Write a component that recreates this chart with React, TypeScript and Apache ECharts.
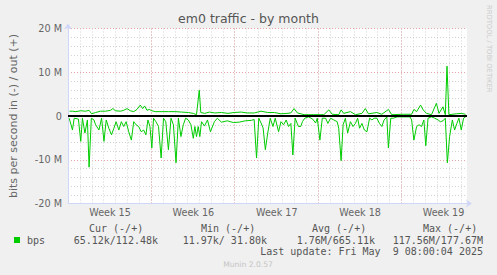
import React, { useEffect, useRef } from "react";
import * as echarts from "echarts";

// x = days since start of the graph window, value = Mbit/s
const outSamples: [number, number][] = [
  [0.13,1.1],[0.38,1.1],[0.65,1.0],[1.07,1.2],[1.48,1.1],[1.77,1.3],[1.98,0.5],[2.32,0.8],[2.73,1.1],[3.15,1.1],
  [3.57,1.3],[3.77,1.7],[3.98,1.2],[4.4,1.1],[4.68,1.3],[4.96,1.7],[5.23,1.2],[5.52,1.0],[5.79,1.5],[6.07,2.5],
  [6.27,1.7],[6.43,2.3],[6.63,1.3],[6.82,1.5],[7.04,1.2],[7.32,1.0],[7.88,1.0],[8.43,1.0],[8.98,1.0],[9.54,0.9],
  [10.1,0.8],[10.52,0.6],[10.79,0.3],[11.02,5.9],[11.15,0.8],[11.48,0.6],[11.88,0.9],[12.32,0.7],[12.88,0.8],[13.43,0.6],
  [13.96,0.8],[14.54,0.9],[15.04,0.7],[15.65,0.7],[16.21,1.1],[16.77,0.8],[17.32,0.8],[17.88,0.5],[18.38,0.6],[18.71,0.7],
  [18.98,1.7],[19.26,0.7],[19.82,0.3],[20.65,0.3],[21.48,0.3],[21.9,1.4],[22.18,0.4],[22.73,0.3],[22.93,1.4],[23.15,0.6],
  [23.71,1.0],[24.13,0.3],[24.68,0.6],[24.96,1.7],[25.23,0.5],[25.93,0.8],[26.35,0.4],[26.9,1.5],[27.18,0.3],[28.15,0.4],
  [28.85,0.4],[29.04,1.5],[29.27,1.0],[29.6,2.5],[29.82,1.4],[30.1,0.6],[30.52,0.3],[30.93,2.9],[31.15,0.6],[31.48,2.1],
  [31.68,0.3],[31.82,11.4],[31.98,0.3],[32.6,0.5],[33.02,0.6],[33.38,0.4]
];

// inbound magnitudes (Mbit/s), drawn below zero as Munin does
const inSamples: [number, number][] = [
  [0.1,0.5],[0.375,3.2],[0.52,0.5],[0.875,0.7],[1.07,5.8],[1.21,0.5],[1.42,3.9],[1.63,0.9],[1.77,11.7],[1.96,0.5],
  [2.18,0.9],[2.32,2.0],[2.6,3.2],[2.82,0.5],[3.02,5.8],[3.21,0.9],[3.43,2.8],[3.65,4.3],[3.85,2.8],[4.04,1.3],
  [4.27,3.2],[4.48,1.3],[4.68,2.4],[4.88,1.3],[5.1,3.6],[5.32,5.5],[5.52,1.3],[5.71,2.0],[5.93,2.4],[6.15,3.6],
  [6.35,3.2],[6.54,4.3],[6.71,0.9],[6.88,2.4],[7.04,7.3],[7.18,0.5],[7.38,1.3],[7.6,2.4],[7.82,9.6],[8.02,0.5],
  [8.21,1.3],[8.43,7.7],[8.65,0.5],[8.85,2.0],[9.07,10.7],[9.27,0.5],[9.48,4.7],[9.68,2.0],[9.88,0.5],[10.1,0.9],
  [10.32,2.0],[10.52,5.1],[10.65,2.4],[10.79,4.7],[10.93,2.4],[11.07,4.7],[11.21,1.3],[11.46,2.3],[11.71,0.9],[11.96,3.6],
  [12.29,1.3],[12.54,0.5],[12.88,1.4],[13.38,1.1],[13.88,1.5],[14.38,1.4],[14.88,1.1],[15.38,1.0],[15.63,0.8],[15.83,9.6],
  [16.02,0.5],[16.21,1.6],[16.38,2.7],[16.57,7.7],[16.77,3.9],[16.98,0.5],[17.21,2.4],[17.4,0.5],[17.68,3.6],[17.88,1.3],
  [18.1,2.0],[18.32,0.9],[18.52,2.4],[18.71,1.7],[18.88,8.9],[19.07,0.5],[19.35,2.4],[19.54,2.4],[19.68,1.3],[19.88,0.5],
  [20.2,0.2],[20.54,0.7],[20.79,1.6],[20.93,0.5],[21.15,5.5],[21.35,0.5],[21.63,0.5],[21.82,1.7],[22.04,0.5],[22.32,0.9],
  [22.6,1.3],[22.73,2.8],[22.93,10.2],[23.1,2.0],[23.29,0.5],[23.48,3.9],[23.71,1.3],[23.93,2.4],[24.13,1.7],[24.32,0.5],
  [24.48,2.8],[24.68,1.7],[24.88,3.2],[25.1,3.6],[25.32,0.5],[25.52,0.9],[25.71,0.5],[25.93,0.5],[26.15,1.7],[26.35,2.4],
  [26.54,0.9],[26.77,0.2],[26.9,7.3],[27.1,0.5],[27.32,0.5],[27.63,0.2],[28.13,0.2],[28.71,0.2],[28.85,0.9],[29.04,5.5],
  [29.27,2.4],[29.48,2.0],[29.68,2.4],[29.88,0.9],[30.04,6.8],[30.23,0.5],[30.52,0.2],[30.79,0.5],[31.07,0.9],[31.27,1.3],
  [31.48,1.1],[31.68,0.5],[31.85,10.7],[32.04,4.7],[32.27,0.9],[32.46,3.2],[32.65,1.7],[32.82,0.5],[33.02,3.2],[33.21,0.5],
  [33.38,0.2]
];

const weekLabels = ["Week 15", "Week 16", "Week 17", "Week 18", "Week 19"];
const legendHeaders = ["Cur (-/+)", "Min (-/+)", "Avg (-/+)", "Max (-/+)"];
const legendValues = ["65.12k/112.48k", "11.97k/ 31.80k", "1.76M/665.11k", "117.56M/177.67M"];
const seriesLabel = "bps";
const lastUpdate = "Last update: Fri May  9 08:00:04 2025";
const titleText = "em0 traffic - by month";
const yAxisName = "bits per second in (-) / out (+)";

const GREEN = "#00cc00";
const FONT = "DejaVu Sans";
const MONO = "DejaVu Sans Mono";
const MINOR = "#d2d2d2";
const MAJOR = "#e8a4a4";
const AXIS = "#CFD6F8";

const headerX = [89, 201, 312, 423];
const valueRight = [158, 267, 375, 483];

function monoText(text: string, x: number, y: number, align: string = "left") {
  return {
    type: "text",
    x,
    y,
    silent: true,
    style: {
      text,
      fill: "#555",
      font: `10px '${MONO}'`,
      align,
      verticalAlign: "middle",
      textAlign: align,
      textVerticalAlign: "middle",
    },
  };
}

export default function App() {
  const ref = useRef<HTMLDivElement>(null);
  useEffect(() => {
    if (!ref.current) return;
    const chart = echarts.init(ref.current, null, { renderer: "svg" });
    const option: any = {
      animation: false,
      backgroundColor: "#F0F0F0",
      title: {
        text: titleText,
        left: "center",
        top: 12,
        padding: 0,
        textStyle: { fontSize: 12.5, fontWeight: "normal", color: "#555", fontFamily: FONT },
      },
      grid: {
        left: 66,
        top: 28.5,
        width: 401,
        height: 175,
        show: true,
        backgroundColor: "#ffffff",
        borderWidth: 0,
      },
      xAxis: [
        {
          type: "value",
          min: 0,
          max: 33.5,
          interval: 1,
          position: "bottom",
          axisLine: { show: false, onZero: false },
          axisTick: { show: false },
          axisLabel: { show: false },
          splitLine: {
            show: true,
            showMinLine: false,
            showMaxLine: false,
            lineStyle: { color: MINOR, type: [1, 2], width: 1 },
          },
        },
        {
          type: "value",
          min: 0,
          max: 33.5,
          interval: 7,
          position: "bottom",
          axisLine: {
            show: true,
            onZero: false,
            lineStyle: { color: AXIS, width: 1 },
            symbol: ["none", "arrow"],
            symbolSize: [6, 6],
            symbolOffset: [0, 5],
          },
          axisTick: { show: false },
          axisLabel: {
            formatter: (v: number) => weekLabels[Math.round(v / 7)] ?? "",
            showMaxLabel: false,
            align: "center",
            padding: [0, 0, 0, 84],
            margin: 4,
            fontSize: 9.6,
            color: "#666",
            fontFamily: FONT,
          },
          splitLine: {
            show: true,
            showMinLine: false,
            showMaxLine: false,
            lineStyle: { color: MAJOR, type: [1, 2], width: 1 },
          },
        },
      ],
      yAxis: {
        type: "value",
        min: -20,
        max: 20,
        interval: 10,
        name: yAxisName,
        nameLocation: "middle",
        nameGap: 49,
        nameRotate: 90,
        nameTextStyle: { fontSize: 11, color: "#666", fontFamily: FONT },
        axisLine: {
          show: true,
          onZero: false,
          lineStyle: { color: AXIS, width: 1 },
          symbol: ["none", "arrow"],
          symbolSize: [6, 6],
          symbolOffset: [0, 5],
        },
        axisTick: { show: false },
        axisLabel: {
          formatter: (v: number) => (v === 0 ? "0" : `${v} M`),
          margin: 6,
          fontSize: 9.7,
          color: "#666",
          fontFamily: FONT,
        },
        splitLine: {
          show: true,
          showMinLine: false,
          lineStyle: { color: MAJOR, type: [1, 2], width: 1 },
        },
        minorTick: { show: false, splitNumber: 5 },
        minorSplitLine: { show: true, lineStyle: { color: MINOR, type: [1, 2], width: 1 } },
      },
      series: [
        {
          type: "line",
          name: "out",
          xAxisIndex: 1,
          data: outSamples,
          symbol: "none",
          showSymbol: false,
          lineStyle: { color: GREEN, width: 1 },
          itemStyle: { color: GREEN },
          z: 3,
        },
        {
          type: "line",
          name: "in",
          xAxisIndex: 1,
          data: inSamples.map(([d, v]) => [d, -v]),
          symbol: "none",
          showSymbol: false,
          lineStyle: { color: GREEN, width: 1 },
          itemStyle: { color: GREEN },
          z: 3,
          markLine: {
            silent: true,
            symbol: ["none", "none"],
            label: { show: false },
            lineStyle: { color: "#000", width: 2, type: "solid" },
            data: [{ yAxis: 0 }],
          },
        },
      ],
      graphic: [
        ...legendHeaders.map((h, i) => monoText(h, headerX[i], 228)),
        { type: "rect", shape: { x: 14, y: 237, width: 6, height: 6 }, style: { fill: GREEN }, silent: true },
        monoText(seriesLabel, 27, 240),
        ...legendValues.map((t, i) => monoText(t, valueRight[i], 240, "right")),
        monoText(lastUpdate, 483, 251.5, "right"),
        {
          type: "text",
          x: 248,
          y: 264,
          silent: true,
          style: {
            text: "Munin 2.0.57",
            fill: "#c4c4c4",
            font: `7.6px '${FONT}'`,
            align: "center",
            verticalAlign: "middle",
            textAlign: "center",
            textVerticalAlign: "middle",
          },
        },
        {
          type: "text",
          x: 489,
          y: 5,
          rotation: -Math.PI / 2,
          silent: true,
          style: {
            text: "RRDTOOL / TOBI OETIKER",
            fill: "#cccccc",
            font: `6.8px '${FONT}'`,
            align: "left",
            verticalAlign: "middle",
            textAlign: "left",
            textVerticalAlign: "middle",
          },
        },
      ],
    };
    chart.setOption(option);
    return () => chart.dispose();
  }, []);
  return (
    <div
      ref={ref}
      style={{ position: "absolute", left: 0, top: 0, width: 497, height: 275 }}
    />
  );
}
